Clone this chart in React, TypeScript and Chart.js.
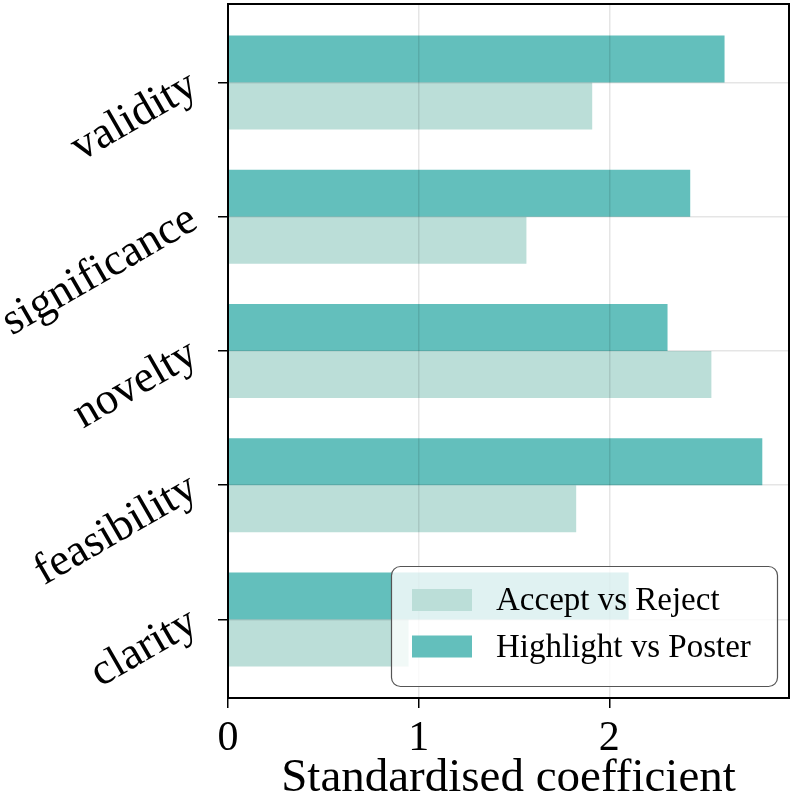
import React, { useEffect, useRef } from 'react';
import { Chart, registerables } from 'chart.js';

Chart.register(...registerables);

const categories = ['validity', 'significance', 'novelty', 'feasibility', 'clarity'];
const acceptVsReject = [1.91, 1.565, 2.535, 1.826, 0.947];
const highlightVsPoster = [2.604, 2.424, 2.305, 2.802, 2.101];
const xTickValues = [0, 1, 2];
const seriesNames = ['Accept vs Reject', 'Highlight vs Poster'];
const xAxisTitle = 'Standardised coefficient';

const ACCEPT_COLOR = '#bbded8';
const HIGHLIGHT_COLOR = '#63bfbc';
const FONT = "'Liberation Serif', 'Times New Roman', serif";

const framePlugin = {
  id: 'frameAndLegend',
  afterDraw(chart: any) {
    const { ctx, chartArea } = chart;
    ctx.save();
    ctx.strokeStyle = '#000';
    ctx.lineWidth = 2;
    ctx.strokeRect(chartArea.left, chartArea.top, chartArea.right - chartArea.left, chartArea.bottom - chartArea.top);

    const w = 386;
    const h = 120;
    const lx = chartArea.right - 12 - w;
    const ly = chartArea.bottom - 12 - h;
    ctx.beginPath();
    (ctx as any).roundRect(lx + 0.5, ly + 0.5, w, h, 9);
    ctx.fillStyle = 'rgba(255,255,255,0.8)';
    ctx.fill();
    ctx.strokeStyle = '#555';
    ctx.lineWidth = 1.2;
    ctx.stroke();

    const items = [
      { label: seriesNames[0], color: ACCEPT_COLOR },
      { label: seriesNames[1], color: HIGHLIGHT_COLOR },
    ];
    ctx.font = `33px ${FONT}`;
    ctx.textBaseline = 'alphabetic';
    ctx.textAlign = 'left';
    items.forEach((it, i) => {
      const cy = ly + 34 + i * 46.5;
      ctx.fillStyle = it.color;
      ctx.fillRect(lx + 21, cy - 11, 60, 22);
      ctx.fillStyle = '#000';
      ctx.fillText(it.label, lx + 105, cy + 10);
    });
    ctx.restore();
  },
};

export default function App() {
  const canvasRef = useRef<HTMLCanvasElement | null>(null);

  useEffect(() => {
    document.body.style.margin = '0';
    const canvas = canvasRef.current;
    if (!canvas) return;
    const chart = new Chart(canvas, {
      type: 'bar',
      data: {
        datasets: [
          {
            label: seriesNames[1],
            data: highlightVsPoster.map((v, i) => ({ x: v, y: i })),
            backgroundColor: HIGHLIGHT_COLOR,
            borderWidth: 0,
          },
          {
            label: seriesNames[0],
            data: acceptVsReject.map((v, i) => ({ x: v, y: i })),
            backgroundColor: ACCEPT_COLOR,
            borderWidth: 0,
          },
        ],
      },
      options: {
        indexAxis: 'y',
        animation: false,
        responsive: false,
        devicePixelRatio: 1,
        layout: { padding: { top: 4, right: 5, left: 0, bottom: 0 } },
        datasets: {
          bar: { categoryPercentage: 0.7, barPercentage: 1.0 },
        },
        plugins: {
          legend: { display: false },
          tooltip: { enabled: false },
        },
        scales: {
          y: {
            type: 'linear',
            reverse: true,
            offset: false,
            min: -0.585,
            max: 4.585,
            afterBuildTicks: (scale: any) => {
              scale.ticks = categories.map((_, i) => ({ value: i }));
            },
            afterFit: (scale: any) => {
              scale.width = 228;
              scale.paddingTop = 0;
              scale.paddingBottom = 0;
            },
            border: { display: false },
            grid: {
              offset: false,
              color: 'rgba(0,0,0,0.1)',
              lineWidth: 1.5,
              z: 1,
              drawTicks: true,
              tickLength: 10,
              tickColor: '#000',
              tickWidth: 1.5,
            },
            ticks: {
              callback: (v: any) => categories[v as number] ?? '',
              minRotation: 30,
              maxRotation: 30,
              padding: 24,
              color: '#000',
              font: { family: FONT, size: 45 },
            },
          },
          x: {
            type: 'linear',
            min: 0,
            max: 2.942,
            offset: false,
            afterBuildTicks: (scale: any) => {
              scale.ticks = xTickValues.map((v) => ({ value: v }));
            },
            afterFit: (scale: any) => {
              scale.height = 101;
              scale.paddingLeft = 0;
              scale.paddingRight = 0;
            },
            border: { display: false },
            grid: {
              offset: false,
              color: 'rgba(0,0,0,0.1)',
              lineWidth: 1.5,
              z: 1,
              drawTicks: true,
              tickLength: 10,
              tickColor: '#000',
              tickWidth: 1.5,
            },
            ticks: {
              callback: (v: any) => String(v),
              maxRotation: 0,
              padding: 6,
              color: '#000',
              font: { family: FONT, size: 42 },
            },
            title: {
              display: true,
              text: xAxisTitle,
              color: '#000',
              font: { family: FONT, size: 47 },
              padding: { top: 0, bottom: -8 },
            },
          },
        },
      },
      plugins: [framePlugin],
    } as any);
    return () => chart.destroy();
  }, []);

  return (
    <div style={{ width: 794, height: 799 }}>
      <canvas ref={canvasRef} width={794} height={799} style={{ display: 'block' }} />
    </div>
  );
}
